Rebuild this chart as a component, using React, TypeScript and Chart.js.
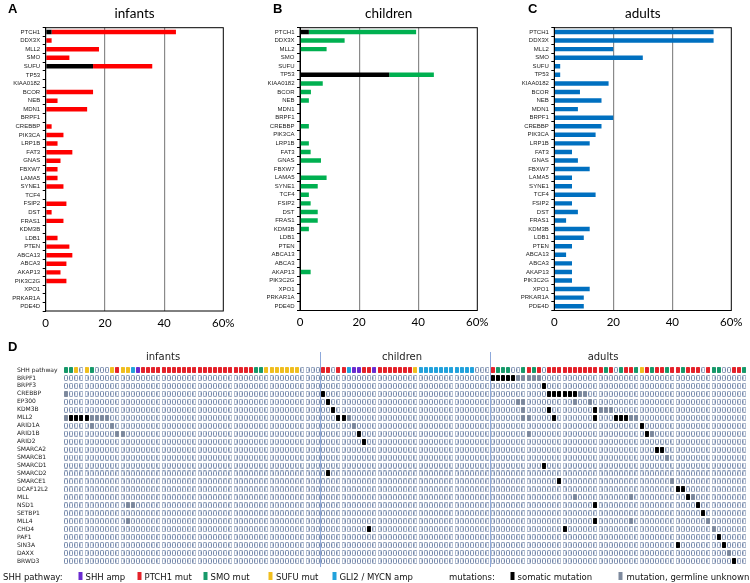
import React, { useEffect, useRef } from 'react';
import { Chart, registerables } from 'chart.js';
Chart.register(...registerables);

// ---------- Panels A–C data ----------
const genes = ['PTCH1','DDX3X','MLL2','SMO','SUFU','TP53','KIAA0182','BCOR','NEB','MDN1','BRPF1','CREBBP','PIK3CA','LRP1B','FAT3','GNAS','FBXW7','LAMA5','SYNE1','TCF4','FSIP2','DST','FRAS1','KDM3B','LDB1','PTEN','ABCA13','ABCA3','AKAP13','PIK3C2G','XPO1','PRKAR1A','PDE4D'];
const infantsBlack = [2,0,0,0,16,0,0,0,0,0,0,0,0,0,0,0,0,0,0,0,0,0,0,0,0,0,0,0,0,0,0,0,0];
const infantsRed = [42,2,18,8,20,0,0,16,4,14,0,2,6,4,9,5,4,4,6,0,7,2,6,0,4,8,9,7,5,7,0,0,0];
const childrenBlack = [3,0,0,0,0,30.2,0,0,0,0,0,0,0,0,0,0,0,0,0,0,0,0,0,0,0,0,0,0,0,0,0,0,0];
const childrenGreen = [36.3,15.1,9,0,0,15.1,7.7,3.7,3,0,0,3,0,3,3.6,7.1,0,9,6,3,3.6,6,6,3,0,0,0,0,3.6,0,0,0,0];
const adultsBlue = [54,54,20,30,2,2,18.4,8.7,16,8,20,16,14,12,6,8,12,6,6,14,6,8,4,12,10,6,4,6,6,6,12,10,10];
const xTickValues = [0, 20, 40, 60];

// ---------- Panel D data ----------
const oncoRows = ['SHH pathway','BRPF1','BRPF3','CREBBP','EP300','KDM3B','MLL2','ARID1A','ARID1B','ARID2','SMARCA2','SMARCB1','SMARCD1','SMARCD2','SMARCE1','DCAF12L2','MLL','NSD1','SETBP1','MLL4','CHD4','PAF1','SIN3A','DAXX','BRWD3'];
const groupNames = ['infants','children','adults'];
const groupSizes = [50, 33, 50];
// SHH pathway status per patient: R PTCH1 mut, G SMO mut, Y SUFU mut, B GLI2/MYCN amp, P SHH amp, - none
const shhInfants = 'GGY-YG---YRYYBP' + 'RRRRRRRRRRRRRRRRRRRRRR' + 'GG' + 'YYYYYYY' + '----';
const shhChildren = 'RR-RRBPPRRP' + 'RRRRRRR' + 'Y' + 'BBBBBBBBBBB' + '---';
const shhAdults = 'RGGG--GRGR-' + 'RRRRRRRRRRR' + 'GR-GRRGYRGRRGRRGRRR-RGG--RRG';
const infantMutations: [string, number, string][] = [
  ['CREBBP',0,'germ'],
  ['MLL2',0,'germ'],['MLL2',1,'som'],['MLL2',2,'som'],['MLL2',3,'som'],['MLL2',4,'som'],
  ['MLL2',5,'germ'],['MLL2',6,'germ'],['MLL2',7,'germ'],['MLL2',8,'germ'],
  ['ARID1A',5,'germ'],['ARID1A',9,'germ'],
  ['ARID1B',10,'germ'],['ARID1B',11,'germ'],
  ['NSD1',12,'germ'],['NSD1',13,'germ'],
  ['MLL4',12,'germ'],
];
const childMutations: [string, number, string][] = [
  ['CREBBP',0,'som'],['EP300',1,'som'],['KDM3B',2,'som'],
  ['MLL2',3,'som'],['MLL2',4,'som'],['MLL2',5,'germ'],
  ['ARID1A',6,'germ'],['ARID1B',7,'som'],['ARID2',8,'som'],
  ['SMARCD2',1,'som'],['CHD4',9,'som'],
];
const adultMutations: [string, number, string][] = [
  ['BRPF1',0,'som'],['BRPF1',1,'som'],['BRPF1',2,'som'],['BRPF1',3,'som'],['BRPF1',4,'som'],
  ['BRPF1',5,'germ'],['BRPF1',6,'germ'],['BRPF1',7,'germ'],['BRPF1',8,'germ'],['BRPF1',9,'germ'],
  ['BRPF3',10,'som'],
  ['CREBBP',11,'som'],['CREBBP',12,'som'],['CREBBP',13,'som'],['CREBBP',14,'som'],['CREBBP',15,'som'],['CREBBP',16,'som'],
  ['CREBBP',17,'germ'],['CREBBP',18,'germ'],
  ['EP300',5,'germ'],['EP300',6,'germ'],['EP300',16,'germ'],['EP300',19,'germ'],
  ['KDM3B',6,'germ'],['KDM3B',11,'som'],['KDM3B',20,'som'],['KDM3B',21,'germ'],['KDM3B',22,'germ'],['KDM3B',23,'germ'],
  ['MLL2',6,'germ'],['MLL2',7,'germ'],['MLL2',12,'som'],['MLL2',20,'som'],['MLL2',24,'som'],['MLL2',25,'som'],['MLL2',26,'som'],['MLL2',27,'germ'],['MLL2',28,'germ'],
  ['ARID1A',29,'som'],
  ['ARID1B',7,'germ'],['ARID1B',30,'som'],['ARID1B',31,'germ'],
  ['SMARCA2',32,'som'],['SMARCA2',33,'som'],
  ['SMARCB1',34,'germ'],
  ['SMARCD1',10,'som'],
  ['SMARCE1',13,'som'],['SMARCE1',35,'germ'],
  ['DCAF12L2',36,'som'],['DCAF12L2',37,'som'],
  ['MLL',16,'germ'],['MLL',27,'germ'],['MLL',38,'som'],['MLL',39,'germ'],
  ['NSD1',20,'som'],['NSD1',40,'som'],
  ['SETBP1',41,'som'],
  ['MLL4',20,'som'],['MLL4',27,'germ'],['MLL4',42,'germ'],
  ['CHD4',14,'som'],['CHD4',43,'germ'],
  ['PAF1',44,'som'],
  ['SIN3A',36,'som'],['SIN3A',45,'som'],
  ['DAXX',46,'germ'],
  ['BRWD3',47,'som'],
];

// ---------- styles ----------
const SHH_COLORS: Record<string, string> = { P: '#6A2BD0', R: '#E4222A', G: '#17996A', Y: '#F0BE1E', B: '#22A2DC' };
const SOMATIC = '#000000';
const GERMLINE = '#7E8A9E';
const EMPTY_STROKE = '#7387AA';

function roundPath(g: CanvasRenderingContext2D, x: number, y: number, w: number, h: number, r: number) {
  g.beginPath();
  g.moveTo(x + r, y);
  g.lineTo(x + w - r, y);
  g.quadraticCurveTo(x + w, y, x + w, y + r);
  g.lineTo(x + w, y + h - r);
  g.quadraticCurveTo(x + w, y + h, x + w - r, y + h);
  g.lineTo(x + r, y + h);
  g.quadraticCurveTo(x, y + h, x, y + h - r);
  g.lineTo(x, y + r);
  g.quadraticCurveTo(x, y, x + r, y);
  g.closePath();
}

function makeCell(fill: string | null, stroke: string | null): HTMLCanvasElement {
  const c = document.createElement('canvas');
  c.width = 4; c.height = 6;
  const g = c.getContext('2d')!;
  if (fill) { g.fillStyle = fill; roundPath(g, 0, 0, 4, 6, 0.8); g.fill(); }
  if (stroke) { g.strokeStyle = stroke; g.lineWidth = 1; roundPath(g, 0.5, 0.5, 3, 5, 0.8); g.stroke(); }
  return c;
}

function panelPlugin(letter: string, letterX: number, title: string) {
  return {
    id: 'panelDecor',
    afterDraw(chart: any) {
      const { ctx, chartArea } = chart;
      ctx.save();
      ctx.strokeStyle = '#000';
      ctx.lineWidth = 1;
      ctx.strokeRect(chartArea.left, chartArea.top, chartArea.right - chartArea.left, chartArea.bottom - chartArea.top);
      ctx.fillStyle = '#000';
      ctx.textBaseline = 'alphabetic';
      ctx.textAlign = 'left';
      ctx.font = 'bold 13px "Liberation Sans"';
      ctx.fillText(letter, letterX, 12.5);
      ctx.textAlign = 'center';
      ctx.font = '13.5px Lato';
      ctx.fillText(title, (chartArea.left + chartArea.right) / 2, 18);
      ctx.restore();
    },
  };
}

type Series = { values: number[]; color: string };

function BarPanel(props: { left: number; letter: string; letterX: number; title: string; series: Series[]; axisW: number; padR: number; bottom: number }) {
  const ref = useRef<HTMLCanvasElement | null>(null);
  useEffect(() => {
    const { letter, letterX, title, series, axisW, padR, bottom } = props;
    const chart = new Chart(ref.current!, {
      type: 'bar',
      data: {
        labels: genes,
        datasets: series.map((s) => ({
          data: s.values,
          backgroundColor: s.color,
          borderWidth: 0,
          barPercentage: 0.52,
          categoryPercentage: 1,
        })),
      },
      options: {
        indexAxis: 'y',
        responsive: false,
        animation: false,
        events: [],
        layout: { padding: { top: 27.7, right: padR, left: 0, bottom: 0 } },
        plugins: { legend: { display: false }, tooltip: { enabled: false }, title: { display: false } },
        scales: {
          x: {
            stacked: true,
            min: 0,
            max: 60,
            afterBuildTicks: (s: any) => { s.ticks = xTickValues.map((v) => ({ value: v })); },
            ticks: {
              callback: (v: any) => (v === 60 ? '60%' : String(v)),
              font: { family: 'Lato', size: 11.5 },
              color: '#000',
              padding: 5,
              maxRotation: 0,
            },
            grid: {
              color: (c: any) => (c.tick && (c.tick.value === 20 || c.tick.value === 40) ? '#8a8a8a' : 'rgba(0,0,0,0)'),
              drawTicks: false,
              lineWidth: 1.2,
            },
            border: { display: false },
            afterFit: (s: any) => { s.height = 340 - bottom; },
          },
          y: {
            stacked: true,
            ticks: { font: { family: 'Liberation Sans', size: 6 }, color: '#222', padding: 2.5, autoSkip: false },
            grid: { drawOnChartArea: false, offset: true, tickLength: 3, color: '#000', lineWidth: 1 },
            border: { display: true, color: '#000', width: 1 },
            afterFit: (s: any) => { s.width = axisW; },
          },
        },
      } as any,
      plugins: [panelPlugin(letter, letterX, title)],
    });
    return () => chart.destroy();
  }, []);
  return (
    <canvas
      ref={ref}
      width={250}
      height={340}
      style={{ position: 'absolute', left: props.left, top: 0, width: 250, height: 340 }}
    />
  );
}

function OncoPanel() {
  const ref = useRef<HTMLCanvasElement | null>(null);
  useEffect(() => {
    const shh = shhInfants + shhChildren + shhAdults;
    const offsets = [0, groupSizes[0], groupSizes[0] + groupSizes[1]];
    const total = groupSizes[0] + groupSizes[1] + groupSizes[2];
    const mut = new Map<string, string>();
    [infantMutations, childMutations, adultMutations].forEach((list, gi) => {
      list.forEach(([gene, col, kind]) => mut.set(gene + '|' + (offsets[gi] + col), kind));
    });
    const kinds = ['empty', 'som', 'germ', 'P', 'R', 'G', 'Y', 'B'];
    const buckets: Record<string, { x: number; y: string }[]> = {};
    kinds.forEach((k) => (buckets[k] = []));
    for (let col = 0; col < total; col++) {
      const s = shh[col];
      buckets[s && s !== '-' ? s : 'empty'].push({ x: col, y: oncoRows[0] });
      for (let r = 1; r < oncoRows.length; r++) {
        const k = mut.get(oncoRows[r] + '|' + col);
        buckets[k || 'empty'].push({ x: col, y: oncoRows[r] });
      }
    }
    const images: Record<string, HTMLCanvasElement> = {
      empty: makeCell(null, EMPTY_STROKE),
      som: makeCell(SOMATIC, null),
      germ: makeCell(GERMLINE, null),
      P: makeCell(SHH_COLORS.P, null),
      R: makeCell(SHH_COLORS.R, null),
      G: makeCell(SHH_COLORS.G, null),
      Y: makeCell(SHH_COLORS.Y, null),
      B: makeCell(SHH_COLORS.B, null),
    };
    const boundaries = [offsets[1] - 0.5, offsets[2] - 0.5];
    const titleX = [163, 402, 603];
    const legend = [
      { text: 'SHH pathway:', x: 3 },
      { color: SHH_COLORS.P, x: 78.5 }, { text: 'SHH amp', x: 85.5 },
      { color: SHH_COLORS.R, x: 137.5 }, { text: 'PTCH1 mut', x: 144.5 },
      { color: SHH_COLORS.G, x: 203.5 }, { text: 'SMO mut', x: 210.5 },
      { color: SHH_COLORS.Y, x: 268.5 }, { text: 'SUFU mut', x: 276 },
      { color: SHH_COLORS.B, x: 332.5 }, { text: 'GLI2 / MYCN amp', x: 339.5 },
      { text: 'mutations:', x: 449 },
      { color: SOMATIC, x: 510.5 }, { text: 'somatic mutation', x: 517.5 },
      { color: GERMLINE, x: 618.5 }, { text: 'mutation, germline unknown', x: 626.5 },
    ];
    const decor = {
      id: 'oncoDecor',
      beforeDatasetsDraw(chart: any) {
        const { ctx } = chart;
        const xs = chart.scales.x;
        ctx.save();
        ctx.strokeStyle = '#8EA9DB';
        ctx.lineWidth = 1;
        boundaries.forEach((b) => {
          const px = Math.round(xs.getPixelForValue(b)) + 0.5;
          ctx.beginPath();
          ctx.moveTo(px, 12);
          ctx.lineTo(px, 227);
          ctx.stroke();
        });
        ctx.restore();
      },
      afterDraw(chart: any) {
        const { ctx } = chart;
        ctx.save();
        ctx.fillStyle = '#000';
        ctx.textBaseline = 'alphabetic';
        ctx.textAlign = 'left';
        ctx.font = 'bold 13px "Liberation Sans"';
        ctx.fillText('D', 8, 10.5);
        ctx.font = '10px "DejaVu Sans"';
        ctx.fillStyle = '#222';
        ctx.textAlign = 'center';
        groupNames.forEach((n, i) => ctx.fillText(n, titleX[i], 20));
        ctx.textAlign = 'left';
        ctx.font = '8.5px "DejaVu Sans"';
        legend.forEach((it: any) => {
          if (it.color) {
            ctx.fillStyle = it.color;
            ctx.fillRect(it.x, 232, 4, 8);
          } else {
            ctx.fillStyle = '#111';
            ctx.fillText(it.text, it.x, 239.5);
          }
        });
        ctx.restore();
      },
    };
    const chart = new Chart(ref.current!, {
      type: 'scatter',
      data: {
        datasets: kinds.map((k) => ({
          data: buckets[k],
          pointStyle: images[k],
          pointRadius: 2,
          pointHoverRadius: 2,
        })),
      },
      options: {
        responsive: false,
        animation: false,
        events: [],
        layout: { padding: { left: 17, right: 1, top: 26, bottom: 18 } },
        plugins: { legend: { display: false }, tooltip: { enabled: false } },
        scales: {
          x: { type: 'linear', min: -0.5, max: total - 0.5, display: false },
          y: {
            type: 'category',
            labels: oncoRows,
            offset: true,
            ticks: { font: { family: 'DejaVu Sans', size: 6 }, color: '#222', crossAlign: 'far', autoSkip: false, padding: 0 },
            grid: { display: false },
            border: { display: false },
            afterFit: (s: any) => { s.width = 46.4; },
          },
        },
      } as any,
      plugins: [decor],
    });
    return () => chart.destroy();
  }, []);
  return (
    <canvas
      ref={ref}
      width={750}
      height={243}
      style={{ position: 'absolute', left: 0, top: 340, width: 750, height: 243 }}
    />
  );
}

export default function App() {
  return (
    <div style={{ position: 'absolute', left: 0, top: 0, width: 750, height: 583, background: '#fff', overflow: 'hidden' }}>
      <BarPanel left={0} letter="A" letterX={8} title="infants" axisW={45.7} padR={26.7} bottom={311}
        series={[{ values: infantsBlack, color: '#000000' }, { values: infantsRed, color: '#FF0000' }]} />
      <BarPanel left={250} letter="B" letterX={23} title="children" axisW={50} padR={22.7} bottom={310.5}
        series={[{ values: childrenBlack, color: '#000000' }, { values: childrenGreen, color: '#00B050' }]} />
      <BarPanel left={500} letter="C" letterX={28} title="adults" axisW={54.3} padR={18.7} bottom={310.5}
        series={[{ values: adultsBlue, color: '#0070C0' }]} />
      <OncoPanel />
    </div>
  );
}
